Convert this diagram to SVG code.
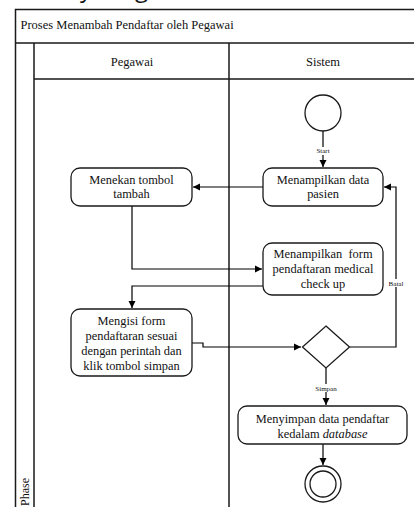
<svg xmlns="http://www.w3.org/2000/svg" width="414" height="507" viewBox="0 0 414 507">
<defs>
<marker id="ah" markerWidth="8" markerHeight="8" refX="7" refY="4" orient="auto" markerUnits="userSpaceOnUse">
<path d="M0,0.5 L7,4 L0,7.5 Z" fill="#000"/>
</marker>
<style>
.lane{fill:none;stroke:#1a1a1a;stroke-width:1.5}
.box{fill:#fff;stroke:#1a1a1a;stroke-width:1.3}
.t{font-family:"Liberation Serif","Times New Roman",serif;font-size:12.4px;fill:#111;text-anchor:middle}
.h{font-family:"Liberation Serif","Times New Roman",serif;font-size:12.5px;fill:#111}
.s{font-family:"Liberation Serif","Times New Roman",serif;font-size:7px;fill:#111;text-anchor:middle}
.c{fill:none;stroke:#000;stroke-width:1.2}
</style>
</defs>
<rect width="414" height="507" fill="#fff"/>
<text x="12" y="-3" style="font-family:'Open Sans',sans-serif;font-size:24px;fill:#111">Activity Diagram</text>
<g id="pool">
<path class="lane" d="M15.5,507 V9.5 H420 M15.5,43 H420 M34,43 V507 M34,79 H420 M229,43 V507"/>
<text class="h" x="20.5" y="29">Proses Menambah Pendaftar oleh Pegawai</text>
<text class="h" x="132" y="66" text-anchor="middle">Pegawai</text>
<text class="h" x="323" y="66" text-anchor="middle">Sistem</text>
<text class="h" transform="translate(29,506) rotate(-90)" style="font-size:12px">Phase</text>
</g>
<g id="connectors">
<path class="c" d="M323,131 V167" marker-end="url(#ah)"/>
<path class="c" d="M263,187 H193" marker-end="url(#ah)"/>
<path class="c" d="M132,206 V269 H262" marker-end="url(#ah)"/>
<path class="c" d="M263,286 H132 V308" marker-end="url(#ah)"/>
<path class="c" d="M192,343 H203 V347 H301" marker-end="url(#ah)"/>
<path class="c" d="M349.5,347 H396 V187 H384" marker-end="url(#ah)"/>
<path class="c" d="M326,368 V405" marker-end="url(#ah)"/>
<path class="c" d="M323,444 V465" marker-end="url(#ah)"/>
<rect x="320" y="147" width="6" height="8" fill="#fff"/>
<text class="s" x="323" y="153">Start</text>
<rect x="387" y="279" width="18" height="8" fill="#fff"/>
<text class="s" x="396" y="285.5">Batal</text>
<rect x="315" y="384" width="22" height="8" fill="#fff"/>
<text class="s" x="326" y="390.5">Simpan</text>
</g>
<g id="start"><circle cx="323" cy="113" r="18" fill="#fff" stroke="#1a1a1a" stroke-width="1.3"/></g>
<g id="n1"><rect class="box" x="263" y="168" width="120" height="38" rx="9"/>
<text class="t" x="323" y="184">Menampilkan data</text><text class="t" x="323" y="198">pasien</text></g>
<g id="n2"><rect class="box" x="71" y="168" width="121" height="38" rx="9"/>
<text class="t" x="131.5" y="184">Menekan tombol</text><text class="t" x="131.5" y="198">tambah</text></g>
<g id="n3"><rect class="box" x="263" y="243" width="120" height="52" rx="9"/>
<text class="t" x="323" y="258" xml:space="preserve">Menampilkan  form</text><text class="t" x="323" y="273">pendaftaran medical</text><text class="t" x="323" y="288">check up</text></g>
<g id="n4"><rect class="box" x="71" y="309" width="121" height="67" rx="9"/>
<text class="t" x="131.5" y="325">Mengisi form</text><text class="t" x="131.5" y="340">pendaftaran sesuai</text><text class="t" x="131.5" y="355">dengan perintah dan</text><text class="t" x="131.5" y="370">klik tombol simpan</text></g>
<g id="decision"><path d="M326,326 L349.5,347 L326,368 L302.5,347 Z" fill="#fff" stroke="#1a1a1a" stroke-width="1.3"/></g>
<g id="n5"><rect class="box" x="238" y="406" width="169" height="38" rx="9"/>
<text class="t" x="322.5" y="423">Menyimpan data pendaftar</text><text class="t" x="322.5" y="438">kedalam <tspan font-style="italic">database</tspan></text></g>
<g id="end"><circle cx="323" cy="484" r="18" fill="#fff" stroke="#1a1a1a" stroke-width="1.3"/><circle cx="323" cy="484" r="13" fill="none" stroke="#1a1a1a" stroke-width="1.3"/></g>
</svg>
